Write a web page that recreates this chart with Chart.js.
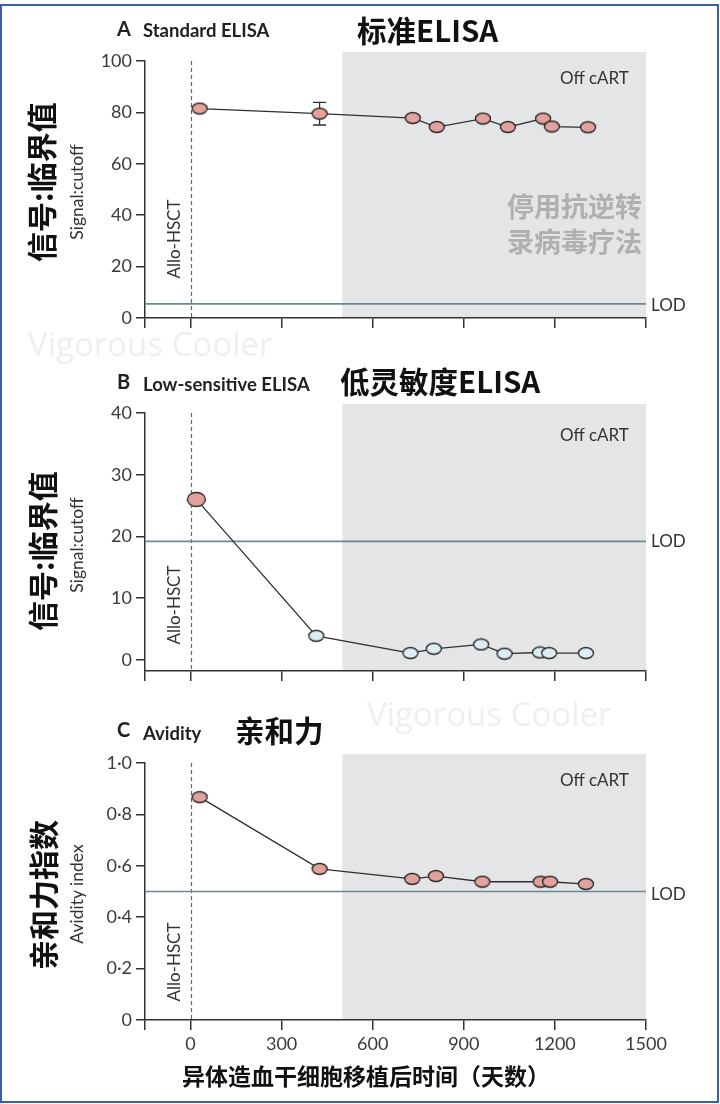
<!DOCTYPE html>
<html>
<head>
<meta charset="utf-8">
<script src="https://cdn.jsdelivr.net/npm/chart.js@4"></script>
<style>
  html, body { margin: 0; padding: 0; background: #fff; }
  #page { position: relative; width: 720px; height: 1104px; overflow: hidden; }
  #frame { position: absolute; left: 0; top: 4px; width: 715px; height: 1095px; border: 2px solid #3d5ea6; }
  canvas { position: absolute; left: 0; }
  .t { position: absolute; white-space: nowrap; line-height: 1; font-family: Lato, "Open Sans", sans-serif; color: #2a2a2a; }
  .l { transform: translateY(-50%); }
  .c { transform: translate(-50%, -50%); }
  .r { transform: translate(-50%, -50%) rotate(-90deg); }
  .letra { font-size: 20px; font-weight: 700; color: #222; }
  .sub { font-size: 18.5px; font-weight: 700; color: #222; }
  .zh { font-family: "Noto Sans CJK SC", sans-serif; font-weight: 700; color: #111; }
  .tit { font-size: 29.5px; }
  .ylab { font-size: 30px; }
  .yen { font-size: 17.5px; color: #333; }
  .allo { font-size: 17px; color: #333; }
  .off { font-size: 17px; color: #333; }
  .lod { font-size: 17px; color: #333; }
  .gris { font-size: 27px; color: #b0b0b0; }
  .marca { font-family: "Open Sans", sans-serif; font-size: 33px; color: #efefef; }
</style>
</head>
<body>
<div id="page">
  <canvas id="cA" width="720" height="340" style="top:0"></canvas>
  <canvas id="cB" width="720" height="360" style="top:340px"></canvas>
  <canvas id="cC" width="720" height="400" style="top:700px"></canvas>

  <!-- Panel A -->
  <div class="t l letra" style="left:117px; top:28px">A</div>
  <div class="t l sub" style="left:143px; top:30px">Standard ELISA</div>
  <div class="t l zh tit" style="left:357px; top:30px">标准ELISA</div>
  <div class="t r zh ylab" style="left:40px; top:182px">信号:临界值</div>
  <div class="t r yen" style="left:77px; top:192px">Signal:cutoff</div>
  <div class="t r allo" style="left:173px; top:239px">Allo-HSCT</div>
  <div class="t l off" style="left:560px; top:77px">Off cART</div>
  <div class="t l zh gris" style="left:507px; top:205px">停用抗逆转</div>
  <div class="t l zh gris" style="left:507px; top:240px">录病毒疗法</div>
  <div class="t l lod" style="left:651px; top:304px">LOD</div>
  <div class="t l marca" style="left:28px; top:343px">Vigorous Cooler</div>

  <!-- Panel B -->
  <div class="t l letra" style="left:117px; top:381px">B</div>
  <div class="t l sub" style="left:143px; top:384px">Low-sensitive ELISA</div>
  <div class="t l zh tit" style="left:340px; top:381px">低灵敏度ELISA</div>
  <div class="t r zh ylab" style="left:41px; top:551px">信号:临界值</div>
  <div class="t r yen" style="left:77px; top:545px">Signal:cutoff</div>
  <div class="t r allo" style="left:173px; top:605px">Allo-HSCT</div>
  <div class="t l off" style="left:560px; top:434px">Off cART</div>
  <div class="t l lod" style="left:651px; top:540px">LOD</div>
  <div class="t l marca" style="left:367px; top:713px">Vigorous Cooler</div>

  <!-- Panel C -->
  <div class="t l letra" style="left:117px; top:729px">C</div>
  <div class="t l sub" style="left:143px; top:733px">Avidity</div>
  <div class="t l zh tit" style="left:235px; top:730px">亲和力</div>
  <div class="t r zh ylab" style="left:42px; top:895px">亲和力指数</div>
  <div class="t r yen" style="left:77px; top:894px">Avidity index</div>
  <div class="t r allo" style="left:173px; top:962px">Allo-HSCT</div>
  <div class="t l off" style="left:560px; top:779px">Off cART</div>
  <div class="t l lod" style="left:651px; top:893px">LOD</div>
  <div class="t c zh" style="left:366px; top:1075px; font-size:23px">异体造血干细胞移植后时间（天数）</div>

  <div id="frame"></div>
</div>

<script>
// ---- datos (días post-trasplante y valores) ----
const xTicks = [-150, 0, 300, 600, 900, 1200, 1500];
const offCartStart = 500;
const offCartEnd = 1500;

// A: ELISA estándar
const daysA = [30, 425, 732, 811, 963, 1045, 1161, 1190, 1309];
const elisaA = [81.5, 79.5, 77.8, 74.3, 77.6, 74.3, 77.6, 74.5, 74.2];
const errA = [0, 4.4, 0, 0, 0, 0, 0, 0, 0];
const lodA = 5.5;
const yTicksA = [0, 20, 40, 60, 80, 100];

// B: ELISA de baja sensibilidad
const daysB = [19, 414, 724, 801, 957, 1034, 1151, 1181, 1302];
const lowB = [26.0, 3.9, 1.1, 1.8, 2.5, 1.0, 1.2, 1.1, 1.1];
const lodB = 19.2;
const yTicksB = [0, 10, 20, 30, 40];

// C: avidez
const daysC = [30, 425, 730, 808, 961, 1153, 1184, 1302];
const avidC = [0.867, 0.588, 0.549, 0.560, 0.538, 0.538, 0.538, 0.529];
const lodC = 0.5;
const yTicksC = [0, 0.2, 0.4, 0.6, 0.8, 1.0];

const ROSA = '#e3a29d';
const CELESTE = '#ddedf3';
const TINTA = '#2f2f2f';

Chart.defaults.font.family = 'Lato, "Open Sans", sans-serif';
Chart.defaults.font.size = 18;
Chart.defaults.color = '#3a3a3a';

// Puntos ovalados como en la figura original (más anchos que altos)
function ovalo(w, h, fill) {
    let c = document.createElement('canvas');
    c.width = w + 3; c.height = h + 3;
    let g = c.getContext('2d');
    g.beginPath();
    g.ellipse(c.width / 2, c.height / 2, w / 2, h / 2, 0, 0, Math.PI * 2);
    g.fillStyle = fill; g.fill();
    g.lineWidth = 1.3; g.strokeStyle = '#262626'; g.stroke();
    return c;
}
const puntoRosa = ovalo(15, 11, ROSA);
const puntoRosaGrande = ovalo(18, 14, ROSA);
const puntoCeleste = ovalo(15, 11, CELESTE);

// Fondo gris "Off cART", línea punteada del trasplante, LOD y barras de error
const decor = {
    id: 'decor',
    beforeDraw(chart, args, o) {
        let { ctx, chartArea } = chart;
        let x = chart.scales.x;
        let x0 = x.getPixelForValue(offCartStart), x1 = x.getPixelForValue(offCartEnd);
        ctx.save();
        ctx.fillStyle = '#e4e5e7';
        ctx.fillRect(x0, chartArea.top - 9, x1 - x0, chartArea.bottom - chartArea.top + 9);
        ctx.restore();
    },
    beforeDatasetsDraw(chart, args, o) {
        let { ctx, chartArea } = chart;
        let x = chart.scales.x, y = chart.scales.y;
        ctx.save();
        // trasplante (día 0)
        let px = Math.round(x.getPixelForValue(0)) + 0.5;
        ctx.strokeStyle = '#4b6f80';
        ctx.lineWidth = 1.2;
        ctx.setLineDash([4, 3]);
        ctx.beginPath(); ctx.moveTo(px, chartArea.top); ctx.lineTo(px, chartArea.bottom); ctx.stroke();
        ctx.setLineDash([]);
        // límite de detección
        let py = y.getPixelForValue(o.lod);
        ctx.strokeStyle = '#6e8893';
        ctx.lineWidth = 1.6;
        ctx.beginPath(); ctx.moveTo(chartArea.left, py); ctx.lineTo(chartArea.right, py); ctx.stroke();
        // barras de error
        if (o.err) {
            ctx.strokeStyle = TINTA;
            ctx.lineWidth = 1.3;
            o.days.forEach((d, i) => {
                if (!o.err[i]) return;
                let cx = x.getPixelForValue(d);
                let yHi = y.getPixelForValue(o.vals[i] + o.err[i]);
                let yLo = y.getPixelForValue(o.vals[i] - o.err[i]);
                ctx.beginPath();
                ctx.moveTo(cx, yHi); ctx.lineTo(cx, yLo);
                ctx.moveTo(cx - 6.5, yHi); ctx.lineTo(cx + 6.5, yHi);
                ctx.moveTo(cx - 6.5, yLo); ctx.lineTo(cx + 6.5, yLo);
                ctx.stroke();
            });
        }
        ctx.restore();
    }
};

function armarPanel(id, cfg) {
    let alto = document.getElementById(id).height;
    return new Chart(document.getElementById(id), {
        type: 'line',
        data: {
            datasets: [{
                data: cfg.days.map((d, i) => ({ x: d, y: cfg.vals[i] })),
                borderColor: TINTA, borderWidth: 1.3, tension: 0,
                pointStyle: cfg.estilos, pointRadius: 7
            }]
        },
        options: {
            responsive: false,
            animation: false,
            events: [],
            layout: { padding: { top: cfg.top, right: 74, left: 0, bottom: 0 } },
            plugins: {
                legend: { display: false },
                tooltip: { enabled: false },
                decor: { lod: cfg.lod, err: cfg.err, days: cfg.days, vals: cfg.vals }
            },
            scales: {
                x: {
                    type: 'linear', min: -150, max: 1500,
                    afterBuildTicks: a => { a.ticks = xTicks.map(v => ({ value: v })); },
                    afterFit: a => { a.height = alto - cfg.bottom; },
                    grid: { drawOnChartArea: false, drawTicks: true, tickLength: 10, color: '#333', lineWidth: 1.5 },
                    border: { display: true, color: '#333', width: 1.5 },
                    ticks: {
                        display: cfg.xLabels, padding: 3, maxRotation: 0, autoSkip: false,
                        callback: v => v === -150 ? '' : String(v)
                    }
                },
                y: {
                    min: cfg.yMin, max: cfg.yMax,
                    afterBuildTicks: a => { a.ticks = cfg.yTicks.map(v => ({ value: v })); },
                    afterFit: a => { a.width = 145; },
                    grid: { drawOnChartArea: false, drawTicks: true, tickLength: 9, color: '#333', lineWidth: 1.5 },
                    border: { display: true, color: '#333', width: 1.5 },
                    ticks: { padding: 4, callback: cfg.yFmt || (v => String(v)) }
                }
            }
        },
        plugins: [decor]
    });
}

armarPanel('cA', {
    days: daysA, vals: elisaA, err: errA, lod: lodA,
    yMin: 0, yMax: 100, yTicks: yTicksA, top: 61, bottom: 318, xLabels: false,
    estilos: daysA.map(() => puntoRosa)
});

armarPanel('cB', {
    days: daysB, vals: lowB, lod: lodB,
    yMin: -1.8, yMax: 40, yTicks: yTicksB, top: 73, bottom: 331, xLabels: false,
    estilos: daysB.map((d, i) => i === 0 ? puntoRosaGrande : puntoCeleste)
});

armarPanel('cC', {
    days: daysC, vals: avidC, lod: lodC,
    yMin: 0, yMax: 1, yTicks: yTicksC, top: 63, bottom: 320, xLabels: true,
    estilos: daysC.map(() => puntoRosa),
    // la revista usa punto medio como separador decimal
    yFmt: v => v === 0 ? '0' : v.toFixed(1).replace('.', '·')
});
</script>
</body>
</html>
